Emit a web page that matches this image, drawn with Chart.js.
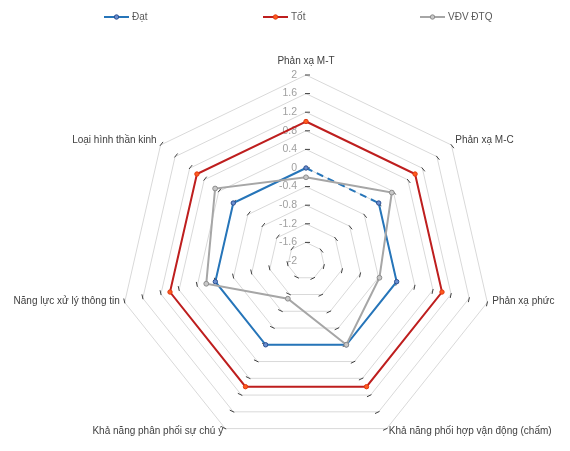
<html lang="vi">
<head>
  <meta charset="utf-8">
  <title>Radar</title>
  <style>
    body { margin: 0; padding: 0; background: #fff; }
    #wrap { width: 570px; height: 451px; }
  </style>
  <script src="https://cdn.jsdelivr.net/npm/chart.js@4.4.1/dist/chart.umd.min.js"></script>
</head>
<body>
  <div id="wrap"><canvas id="chart" width="570" height="451"></canvas></div>
  <script>
    // data
    const categories = ['Phản xạ M-T', 'Phản xạ M-C', 'Phản xạ phức',
      'Khả năng phối hợp vận động (chấm)', 'Khả năng phân phối sự chú ý',
      'Năng lực xử lý thông tin', 'Loại hình thần kinh'];
    const dat = [0, 0, 0, 0, 0, 0, 0];
    const tot = [1, 1, 1, 1, 1, 1, 1];
    const vdv = [-0.2, 0.36, -0.38, 0, -1.1, 0.2, 0.5];
    const tickValues = [-2, -1.6, -1.2, -0.8, -0.4, 0, 0.4, 0.8, 1.2, 1.6, 2];
    const tickLabels = ['-2', '-1.6', '-1.2', '-0.8', '-0.4', '0', '0.4', '0.8', '1.2', '1.6', '2'];

    const textFont = '10px "Liberation Sans", Arial, sans-serif';

    // radar controller doesn't pass "segment" to the line, so do it here.
    // styled pieces of a closed loop each get closePath'd, so open them
    // and let the last piece wrap back to point 0 instead
    class SegRadar extends Chart.RadarController {
      update(mode) {
        const meta = this._cachedMeta;
        const line = meta.dataset;
        const points = meta.data || [];
        const labels = meta.iScale.getLabels();
        line.points = points;
        line._chart = this.chart;
        line._datasetIndex = this.index;
        if (mode !== 'resize') {
          const options = this.resolveDatasetElementOptions(mode);
          if (!this.options.showLine) options.borderWidth = 0;
          options.segment = this.options.segment;
          const properties = { _loop: true, _fullLoop: labels.length === points.length, options: options };
          this.updateElement(line, undefined, properties, mode);
        }
        this.updateElements(points, 0, points.length, mode);
        if (this.options.segment && line.segments.length > 1) {
          const segs = line.segments;
          const n = points.length;
          segs.forEach(sg => { sg.loop = false; });
          const last = segs[segs.length - 1];
          if (last.end === n - 1 && segs[0].start === 0) last.end = 0;
        }
      }
    }
    SegRadar.id = 'segRadar';
    SegRadar.defaults = Chart.RadarController.defaults;
    SegRadar.overrides = Chart.RadarController.overrides;
    Chart.register(SegRadar);

    // tick labels + little tick marks on each spoke (excel style)
    const ticksPlugin = {
      id: 'excelTicks',
      beforeDatasetsDraw(chart) {
        const s = chart.scales.r;
        const ctx = chart.ctx;
        ctx.save();
        ctx.strokeStyle = '#404040';
        ctx.lineWidth = 1;
        tickValues.forEach(v => {
          const r = s.getDistanceFromCenterForValue(v);
          if (r < 1) return;
          for (let i = 0; i < categories.length; i++) {
            const a = s.getIndexAngle(i) - Math.PI / 2;
            const p = s.getPointPosition(i, r);
            const px = -Math.sin(a), py = Math.cos(a);
            ctx.beginPath();
            ctx.moveTo(p.x - px * 1, p.y - py * 1);
            ctx.lineTo(p.x + px * 4, p.y + py * 4);
            ctx.stroke();
          }
        });
        ctx.font = '10.5px "Liberation Sans", Arial, sans-serif';
        ctx.fillStyle = '#a0a0a0';
        ctx.textAlign = 'right';
        ctx.textBaseline = 'middle';
        tickValues.forEach((v, k) => {
          const r = s.getDistanceFromCenterForValue(v);
          ctx.fillText(tickLabels[k], s.xCenter - 9, s.yCenter - r);
        });
        // category labels
        ctx.font = textFont;
        ctx.fillStyle = '#404040';
        categories.forEach((c, i) => {
          const p = s.getPointPosition(i, s.drawingArea + 5);
          if (Math.abs(p.x - s.xCenter) < 1) {
            ctx.textAlign = 'center';
            ctx.textBaseline = 'bottom';
            ctx.fillText(c, p.x, p.y - 4);
          } else {
            ctx.textAlign = p.x > s.xCenter ? 'left' : 'right';
            ctx.textBaseline = 'middle';
            ctx.fillText(c, p.x, p.y - 2);
          }
        });
        ctx.restore();
      },
      afterDraw(chart) {
        // legend on top, spread like the excel one
        const ctx = chart.ctx;
        const slots = [104, 263, 420];
        ctx.save();
        ctx.font = textFont;
        ctx.textBaseline = 'middle';
        ctx.textAlign = 'left';
        chart.data.datasets.forEach((ds, k) => {
          const x = slots[k], y = 17;
          ctx.strokeStyle = ds.borderColor;
          ctx.lineWidth = ds.borderWidth;
          ctx.beginPath();
          ctx.moveTo(x, y);
          ctx.lineTo(x + 25, y);
          ctx.stroke();
          ctx.beginPath();
          ctx.arc(x + 12.5, y, 2.2, 0, Math.PI * 2);
          ctx.fillStyle = ds.pointBackgroundColor;
          ctx.fill();
          ctx.lineWidth = 1;
          ctx.strokeStyle = ds.pointBorderColor;
          ctx.stroke();
          ctx.fillStyle = '#595959';
          ctx.fillText(ds.label, x + 28, y);
        });
        ctx.restore();
      }
    };

    const ctx = document.getElementById('chart');
    new Chart(ctx, {
      type: 'segRadar',
      data: {
        labels: categories,
        datasets: [
          {
            label: 'Đạt',
            data: dat,
            order: 3,
            borderColor: '#2675b9',
            borderWidth: 2,
            pointRadius: 2.2,
            pointBackgroundColor: '#6b8fd0',
            pointBorderColor: '#2b4f8f',
            pointBorderWidth: 1,
            fill: false,
            segment: {
              borderDash: c => c.p0DataIndex === 0 ? [7, 5] : undefined
            }
          },
          {
            label: 'Tốt',
            data: tot,
            order: 2,
            borderColor: '#be1e1e',
            borderWidth: 2,
            pointRadius: 2.2,
            pointBackgroundColor: '#ff5a1f',
            pointBorderColor: '#e03a10',
            pointBorderWidth: 1,
            fill: false
          },
          {
            label: 'VĐV ĐTQ',
            data: vdv,
            order: 1,
            borderColor: '#a6a6a6',
            borderWidth: 2,
            pointRadius: 2.4,
            pointBackgroundColor: '#c8c8c8',
            pointBorderColor: '#8c8c8c',
            pointBorderWidth: 1,
            fill: false
          }
        ]
      },
      options: {
        responsive: false,
        animation: false,
        layout: { padding: { top: 75, bottom: 4, left: 92, right: 50 } },
        plugins: {
          legend: { display: false },
          tooltip: { enabled: false }
        },
        scales: {
          r: {
            min: -2,
            max: 2,
            ticks: { stepSize: 0.4, display: false },
            angleLines: { display: false },
            grid: { color: '#d9d9d9', lineWidth: 1 },
            pointLabels: { display: false }
          }
        }
      },
      plugins: [ticksPlugin]
    });
  </script>
</body>
</html>
